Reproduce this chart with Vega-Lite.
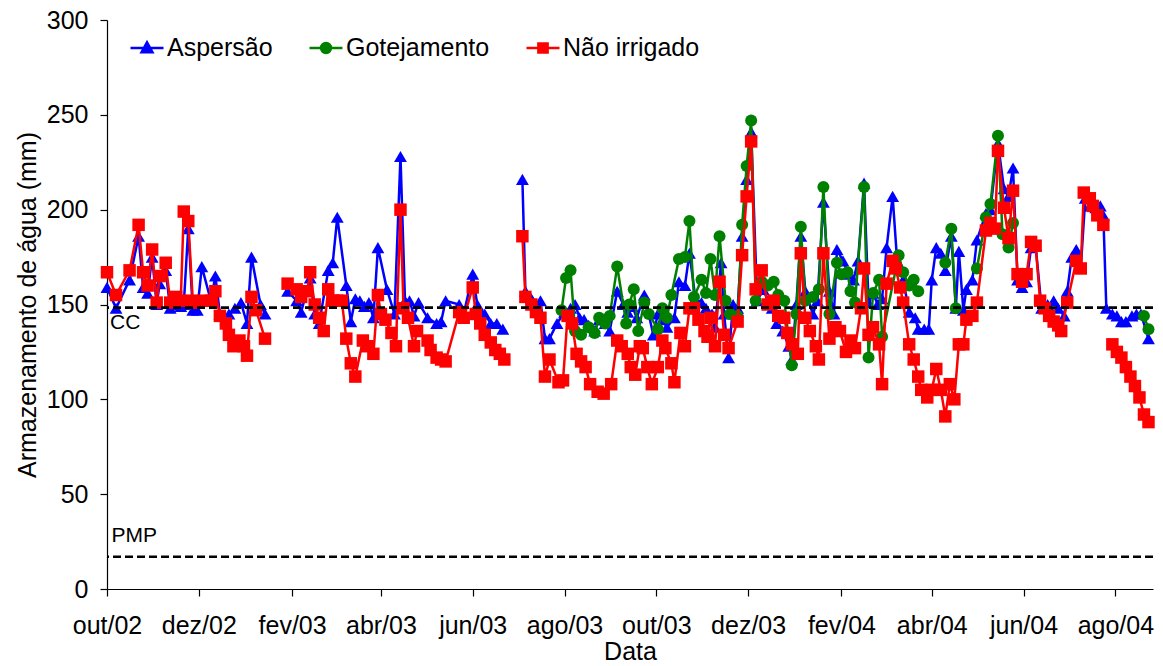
{
"$schema": "https://vega.github.io/schema/vega-lite/v6.json",
"width": 1046, "height": 569, "autosize": "none",
"padding": {"left": 107, "top": 20, "right": 10, "bottom": 77},
"background": "white",
"config": {"view": {"stroke": null}, "font": "Liberation Sans",
 "axis": {"labelFont": "Liberation Sans", "titleFont": "Liberation Sans", "labelColor": "black", "titleColor": "black", "domainColor": "black", "tickColor": "black", "grid": false, "titleFontWeight": "normal", "labelFontSize": 25, "titleFontSize": 25, "tickSize": 7, "domainWidth": 1.2, "tickWidth": 1.2}},
"layer": [
 {"data": {"values": [
{"s":"Aspersão","d":"2002-10-01","v":159,"g":1},{"s":"Aspersão","d":"2002-10-07","v":148,"g":1},{"s":"Aspersão","d":"2002-10-16","v":163,"g":1},{"s":"Aspersão","d":"2002-10-22","v":186,"g":1},{"s":"Aspersão","d":"2002-10-25","v":159,"g":1},{"s":"Aspersão","d":"2002-10-28","v":156,"g":1},{"s":"Aspersão","d":"2002-10-31","v":175,"g":1},{"s":"Aspersão","d":"2002-11-03","v":150,"g":1},{"s":"Aspersão","d":"2002-11-05","v":161,"g":1},{"s":"Aspersão","d":"2002-11-09","v":168,"g":1},{"s":"Aspersão","d":"2002-11-12","v":148,"g":1},{"s":"Aspersão","d":"2002-11-16","v":150,"g":1},{"s":"Aspersão","d":"2002-11-19","v":149,"g":1},{"s":"Aspersão","d":"2002-11-21","v":150,"g":1},{"s":"Aspersão","d":"2002-11-24","v":190,"g":1},{"s":"Aspersão","d":"2002-11-27","v":147,"g":1},{"s":"Aspersão","d":"2002-11-30","v":147,"g":1},{"s":"Aspersão","d":"2002-12-03","v":170,"g":1},{"s":"Aspersão","d":"2002-12-09","v":152,"g":1},{"s":"Aspersão","d":"2002-12-12","v":165,"g":1},{"s":"Aspersão","d":"2002-12-15","v":145,"g":1},{"s":"Aspersão","d":"2002-12-19","v":142,"g":1},{"s":"Aspersão","d":"2002-12-21","v":145,"g":1},{"s":"Aspersão","d":"2002-12-25","v":148,"g":1},{"s":"Aspersão","d":"2002-12-29","v":151,"g":1},{"s":"Aspersão","d":"2003-01-02","v":140,"g":1},{"s":"Aspersão","d":"2003-01-05","v":175,"g":1},{"s":"Aspersão","d":"2003-01-11","v":150,"g":1},{"s":"Aspersão","d":"2003-01-14","v":145,"g":1},
{"s":"Aspersão","d":"2003-01-29","v":157,"g":2},{"s":"Aspersão","d":"2003-02-04","v":152,"g":2},{"s":"Aspersão","d":"2003-02-07","v":146,"g":2},{"s":"Aspersão","d":"2003-02-13","v":164,"g":2},{"s":"Aspersão","d":"2003-02-16","v":145,"g":2},{"s":"Aspersão","d":"2003-02-19","v":140,"g":2},{"s":"Aspersão","d":"2003-02-25","v":168,"g":2},{"s":"Aspersão","d":"2003-02-28","v":172,"g":2},{"s":"Aspersão","d":"2003-03-03","v":196,"g":2},{"s":"Aspersão","d":"2003-03-09","v":160,"g":2},{"s":"Aspersão","d":"2003-03-12","v":141,"g":2},{"s":"Aspersão","d":"2003-03-15","v":153,"g":2},{"s":"Aspersão","d":"2003-03-18","v":152,"g":2},{"s":"Aspersão","d":"2003-03-21","v":149,"g":2},{"s":"Aspersão","d":"2003-03-24","v":151,"g":2},{"s":"Aspersão","d":"2003-03-27","v":143,"g":2},{"s":"Aspersão","d":"2003-03-30","v":180,"g":2},{"s":"Aspersão","d":"2003-04-05","v":158,"g":2},{"s":"Aspersão","d":"2003-04-10","v":145,"g":2},{"s":"Aspersão","d":"2003-04-14","v":228,"g":2},{"s":"Aspersão","d":"2003-04-17","v":152,"g":2},{"s":"Aspersão","d":"2003-04-20","v":152,"g":2},{"s":"Aspersão","d":"2003-04-23","v":144,"g":2},{"s":"Aspersão","d":"2003-04-26","v":151,"g":2},{"s":"Aspersão","d":"2003-05-02","v":143,"g":2},{"s":"Aspersão","d":"2003-05-08","v":140,"g":2},{"s":"Aspersão","d":"2003-05-11","v":141,"g":2},{"s":"Aspersão","d":"2003-05-14","v":152,"g":2},{"s":"Aspersão","d":"2003-05-23","v":150,"g":2},{"s":"Aspersão","d":"2003-05-26","v":145,"g":2},{"s":"Aspersão","d":"2003-06-01","v":166,"g":2},{"s":"Aspersão","d":"2003-06-04","v":150,"g":2},{"s":"Aspersão","d":"2003-06-09","v":145,"g":2},{"s":"Aspersão","d":"2003-06-13","v":140,"g":2},{"s":"Aspersão","d":"2003-06-17","v":140,"g":2},{"s":"Aspersão","d":"2003-06-21","v":137,"g":2},
{"s":"Aspersão","d":"2003-07-04","v":216,"g":3},{"s":"Aspersão","d":"2003-07-06","v":157,"g":3},{"s":"Aspersão","d":"2003-07-10","v":153,"g":3},{"s":"Aspersão","d":"2003-07-13","v":150,"g":3},{"s":"Aspersão","d":"2003-07-16","v":152,"g":3},{"s":"Aspersão","d":"2003-07-19","v":132,"g":3},{"s":"Aspersão","d":"2003-07-22","v":132,"g":3},{"s":"Aspersão","d":"2003-07-27","v":140,"g":3},{"s":"Aspersão","d":"2003-08-01","v":146,"g":3},{"s":"Aspersão","d":"2003-08-05","v":148,"g":3},{"s":"Aspersão","d":"2003-08-08","v":150,"g":3},{"s":"Aspersão","d":"2003-08-11","v":143,"g":3},{"s":"Aspersão","d":"2003-08-14","v":142,"g":3},{"s":"Aspersão","d":"2003-08-17","v":139,"g":3},{"s":"Aspersão","d":"2003-08-21","v":136,"g":3},{"s":"Aspersão","d":"2003-08-24","v":142,"g":3},{"s":"Aspersão","d":"2003-08-28","v":140,"g":3},{"s":"Aspersão","d":"2003-08-31","v":136,"g":3},{"s":"Aspersão","d":"2003-09-05","v":157,"g":3},{"s":"Aspersão","d":"2003-09-09","v":150,"g":3},{"s":"Aspersão","d":"2003-09-12","v":146,"g":3},{"s":"Aspersão","d":"2003-09-15","v":149,"g":3},{"s":"Aspersão","d":"2003-09-18","v":143,"g":3},{"s":"Aspersão","d":"2003-09-23","v":155,"g":3},{"s":"Aspersão","d":"2003-09-29","v":134,"g":3},{"s":"Aspersão","d":"2003-10-02","v":145,"g":3},{"s":"Aspersão","d":"2003-10-05","v":142,"g":3},{"s":"Aspersão","d":"2003-10-08","v":138,"g":3},{"s":"Aspersão","d":"2003-10-13","v":143,"g":3},{"s":"Aspersão","d":"2003-10-16","v":162,"g":3},{"s":"Aspersão","d":"2003-10-20","v":160,"g":3},{"s":"Aspersão","d":"2003-10-23","v":177,"g":3},{"s":"Aspersão","d":"2003-10-27","v":153,"g":3},{"s":"Aspersão","d":"2003-10-31","v":151,"g":3},{"s":"Aspersão","d":"2003-11-03","v":148,"g":3},{"s":"Aspersão","d":"2003-11-07","v":145,"g":3},{"s":"Aspersão","d":"2003-11-09","v":138,"g":3},{"s":"Aspersão","d":"2003-11-13","v":172,"g":3},{"s":"Aspersão","d":"2003-11-15","v":145,"g":3},{"s":"Aspersão","d":"2003-11-18","v":122,"g":3},{"s":"Aspersão","d":"2003-11-21","v":150,"g":3},{"s":"Aspersão","d":"2003-11-24","v":148,"g":3},{"s":"Aspersão","d":"2003-11-27","v":186,"g":3},{"s":"Aspersão","d":"2003-11-30","v":216,"g":3},{"s":"Aspersão","d":"2003-12-03","v":241,"g":3},{"s":"Aspersão","d":"2003-12-07","v":152,"g":3},{"s":"Aspersão","d":"2003-12-11","v":158,"g":3},{"s":"Aspersão","d":"2003-12-14","v":152,"g":3},{"s":"Aspersão","d":"2003-12-17","v":148,"g":3},{"s":"Aspersão","d":"2003-12-20","v":140,"g":3},{"s":"Aspersão","d":"2003-12-24","v":136,"g":3},{"s":"Aspersão","d":"2003-12-28","v":128,"g":3},{"s":"Aspersão","d":"2003-12-30","v":121,"g":3},{"s":"Aspersão","d":"2004-01-02","v":150,"g":3},{"s":"Aspersão","d":"2004-01-05","v":186,"g":3},{"s":"Aspersão","d":"2004-01-08","v":157,"g":3},{"s":"Aspersão","d":"2004-01-13","v":145,"g":3},{"s":"Aspersão","d":"2004-01-16","v":152,"g":3},{"s":"Aspersão","d":"2004-01-20","v":204,"g":3},{"s":"Aspersão","d":"2004-01-24","v":157,"g":3},{"s":"Aspersão","d":"2004-01-27","v":145,"g":3},{"s":"Aspersão","d":"2004-01-29","v":179,"g":3},{"s":"Aspersão","d":"2004-02-02","v":173,"g":3},{"s":"Aspersão","d":"2004-02-06","v":166,"g":3},{"s":"Aspersão","d":"2004-02-09","v":163,"g":3},{"s":"Aspersão","d":"2004-02-12","v":173,"g":3},{"s":"Aspersão","d":"2004-02-16","v":214,"g":3},{"s":"Aspersão","d":"2004-02-19","v":151,"g":3},{"s":"Aspersão","d":"2004-02-22","v":156,"g":3},{"s":"Aspersão","d":"2004-02-25","v":150,"g":3},{"s":"Aspersão","d":"2004-02-28","v":153,"g":3},{"s":"Aspersão","d":"2004-03-02","v":180,"g":3},{"s":"Aspersão","d":"2004-03-06","v":207,"g":3},{"s":"Aspersão","d":"2004-03-09","v":173,"g":3},{"s":"Aspersão","d":"2004-03-13","v":163,"g":3},{"s":"Aspersão","d":"2004-03-17","v":146,"g":3},{"s":"Aspersão","d":"2004-03-21","v":143,"g":3},{"s":"Aspersão","d":"2004-03-23","v":137,"g":3},{"s":"Aspersão","d":"2004-03-27","v":137,"g":3},{"s":"Aspersão","d":"2004-03-30","v":137,"g":3},{"s":"Aspersão","d":"2004-04-01","v":163,"g":3},{"s":"Aspersão","d":"2004-04-04","v":180,"g":3},{"s":"Aspersão","d":"2004-04-07","v":177,"g":3},{"s":"Aspersão","d":"2004-04-10","v":168,"g":3},{"s":"Aspersão","d":"2004-04-14","v":186,"g":3},{"s":"Aspersão","d":"2004-04-17","v":148,"g":3},{"s":"Aspersão","d":"2004-04-19","v":178,"g":3},{"s":"Aspersão","d":"2004-04-22","v":147,"g":3},{"s":"Aspersão","d":"2004-04-24","v":158,"g":3},{"s":"Aspersão","d":"2004-04-28","v":163,"g":3},{"s":"Aspersão","d":"2004-05-01","v":184,"g":3},{"s":"Aspersão","d":"2004-05-07","v":198,"g":3},{"s":"Aspersão","d":"2004-05-10","v":200,"g":3},{"s":"Aspersão","d":"2004-05-15","v":235,"g":3},{"s":"Aspersão","d":"2004-05-19","v":211,"g":3},{"s":"Aspersão","d":"2004-05-22","v":207,"g":3},{"s":"Aspersão","d":"2004-05-25","v":222,"g":3},{"s":"Aspersão","d":"2004-05-28","v":163,"g":3},{"s":"Aspersão","d":"2004-05-31","v":159,"g":3},{"s":"Aspersão","d":"2004-06-03","v":162,"g":3},{"s":"Aspersão","d":"2004-06-06","v":180,"g":3},{"s":"Aspersão","d":"2004-06-09","v":181,"g":3},{"s":"Aspersão","d":"2004-06-13","v":148,"g":3},{"s":"Aspersão","d":"2004-06-17","v":150,"g":3},{"s":"Aspersão","d":"2004-06-21","v":152,"g":3},{"s":"Aspersão","d":"2004-06-24","v":148,"g":3},{"s":"Aspersão","d":"2004-06-28","v":144,"g":3},{"s":"Aspersão","d":"2004-06-30","v":157,"g":3},{"s":"Aspersão","d":"2004-07-03","v":175,"g":3},{"s":"Aspersão","d":"2004-07-06","v":179,"g":3},{"s":"Aspersão","d":"2004-07-09","v":169,"g":3},{"s":"Aspersão","d":"2004-07-12","v":206,"g":3},{"s":"Aspersão","d":"2004-07-15","v":202,"g":3},{"s":"Aspersão","d":"2004-07-19","v":201,"g":3},{"s":"Aspersão","d":"2004-07-22","v":202,"g":3},{"s":"Aspersão","d":"2004-07-24","v":197,"g":3},{"s":"Aspersão","d":"2004-07-26","v":148,"g":3},{"s":"Aspersão","d":"2004-07-30","v":145,"g":3},{"s":"Aspersão","d":"2004-08-02","v":144,"g":3},{"s":"Aspersão","d":"2004-08-05","v":141,"g":3},{"s":"Aspersão","d":"2004-08-08","v":141,"g":3},{"s":"Aspersão","d":"2004-08-12","v":144,"g":3},{"s":"Aspersão","d":"2004-08-15","v":145,"g":3},{"s":"Aspersão","d":"2004-08-18","v":145,"g":3},{"s":"Aspersão","d":"2004-08-23","v":132,"g":3},
{"s":"Gotejamento","d":"2003-07-30","v":147,"g":1},{"s":"Gotejamento","d":"2003-08-02","v":164,"g":1},{"s":"Gotejamento","d":"2003-08-05","v":168,"g":1},{"s":"Gotejamento","d":"2003-08-08","v":136,"g":1},{"s":"Gotejamento","d":"2003-08-12","v":134,"g":1},{"s":"Gotejamento","d":"2003-08-17","v":138,"g":1},{"s":"Gotejamento","d":"2003-08-21","v":135,"g":1},{"s":"Gotejamento","d":"2003-08-24","v":143,"g":1},{"s":"Gotejamento","d":"2003-08-28","v":140,"g":1},{"s":"Gotejamento","d":"2003-08-31","v":144,"g":1},{"s":"Gotejamento","d":"2003-09-05","v":170,"g":1},{"s":"Gotejamento","d":"2003-09-11","v":140,"g":1},{"s":"Gotejamento","d":"2003-09-13","v":150,"g":1},{"s":"Gotejamento","d":"2003-09-16","v":158,"g":1},{"s":"Gotejamento","d":"2003-09-19","v":136,"g":1},{"s":"Gotejamento","d":"2003-09-23","v":151,"g":1},{"s":"Gotejamento","d":"2003-09-26","v":145,"g":1},{"s":"Gotejamento","d":"2003-10-02","v":137,"g":1},{"s":"Gotejamento","d":"2003-10-05","v":148,"g":1},{"s":"Gotejamento","d":"2003-10-08","v":143,"g":1},{"s":"Gotejamento","d":"2003-10-11","v":155,"g":1},{"s":"Gotejamento","d":"2003-10-16","v":174,"g":1},{"s":"Gotejamento","d":"2003-10-20","v":175,"g":1},{"s":"Gotejamento","d":"2003-10-23","v":194,"g":1},{"s":"Gotejamento","d":"2003-10-26","v":154,"g":1},{"s":"Gotejamento","d":"2003-10-31","v":163,"g":1},{"s":"Gotejamento","d":"2003-11-03","v":156,"g":1},{"s":"Gotejamento","d":"2003-11-06","v":174,"g":1},{"s":"Gotejamento","d":"2003-11-09","v":155,"g":1},{"s":"Gotejamento","d":"2003-11-12","v":186,"g":1},{"s":"Gotejamento","d":"2003-11-16","v":152,"g":1},{"s":"Gotejamento","d":"2003-11-19","v":145,"g":1},{"s":"Gotejamento","d":"2003-11-24","v":144,"g":1},{"s":"Gotejamento","d":"2003-11-27","v":192,"g":1},{"s":"Gotejamento","d":"2003-11-30","v":223,"g":1},{"s":"Gotejamento","d":"2003-12-03","v":247,"g":1},{"s":"Gotejamento","d":"2003-12-06","v":152,"g":1},{"s":"Gotejamento","d":"2003-12-10","v":162,"g":1},{"s":"Gotejamento","d":"2003-12-14","v":160,"g":1},{"s":"Gotejamento","d":"2003-12-18","v":162,"g":1},{"s":"Gotejamento","d":"2003-12-21","v":155,"g":1},{"s":"Gotejamento","d":"2003-12-25","v":152,"g":1},{"s":"Gotejamento","d":"2003-12-30","v":118,"g":1},{"s":"Gotejamento","d":"2004-01-02","v":145,"g":1},{"s":"Gotejamento","d":"2004-01-05","v":191,"g":1},{"s":"Gotejamento","d":"2004-01-08","v":152,"g":1},{"s":"Gotejamento","d":"2004-01-13","v":154,"g":1},{"s":"Gotejamento","d":"2004-01-17","v":158,"g":1},{"s":"Gotejamento","d":"2004-01-20","v":212,"g":1},{"s":"Gotejamento","d":"2004-01-24","v":145,"g":1},{"s":"Gotejamento","d":"2004-01-29","v":172,"g":1},{"s":"Gotejamento","d":"2004-02-01","v":166,"g":1},{"s":"Gotejamento","d":"2004-02-05","v":167,"g":1},{"s":"Gotejamento","d":"2004-02-07","v":157,"g":1},{"s":"Gotejamento","d":"2004-02-10","v":151,"g":1},{"s":"Gotejamento","d":"2004-02-16","v":212,"g":1},{"s":"Gotejamento","d":"2004-02-19","v":122,"g":1},{"s":"Gotejamento","d":"2004-02-22","v":156,"g":1},{"s":"Gotejamento","d":"2004-02-26","v":163,"g":1},{"s":"Gotejamento","d":"2004-02-28","v":133,"g":1},{"s":"Gotejamento","d":"2004-03-10","v":176,"g":1},{"s":"Gotejamento","d":"2004-03-13","v":167,"g":1},{"s":"Gotejamento","d":"2004-03-17","v":160,"g":1},{"s":"Gotejamento","d":"2004-03-20","v":163,"g":1},{"s":"Gotejamento","d":"2004-03-23","v":157,"g":1},
{"s":"Gotejamento","d":"2004-04-10","v":172,"g":2},{"s":"Gotejamento","d":"2004-04-14","v":190,"g":2},{"s":"Gotejamento","d":"2004-04-17","v":148,"g":2},
{"s":"Gotejamento","d":"2004-05-01","v":169,"g":3},{"s":"Gotejamento","d":"2004-05-07","v":196,"g":3},{"s":"Gotejamento","d":"2004-05-10","v":203,"g":3},{"s":"Gotejamento","d":"2004-05-15","v":239,"g":3},{"s":"Gotejamento","d":"2004-05-18","v":187,"g":3},{"s":"Gotejamento","d":"2004-05-22","v":180,"g":3},{"s":"Gotejamento","d":"2004-05-25","v":193,"g":3},
{"s":"Gotejamento","d":"2004-08-20","v":144,"g":4},{"s":"Gotejamento","d":"2004-08-23","v":137,"g":4},
{"s":"Não irrigado","d":"2002-10-01","v":167,"g":1},{"s":"Não irrigado","d":"2002-10-07","v":155,"g":1},{"s":"Não irrigado","d":"2002-10-16","v":168,"g":1},{"s":"Não irrigado","d":"2002-10-22","v":192,"g":1},{"s":"Não irrigado","d":"2002-10-25","v":167,"g":1},{"s":"Não irrigado","d":"2002-10-28","v":160,"g":1},{"s":"Não irrigado","d":"2002-10-31","v":179,"g":1},{"s":"Não irrigado","d":"2002-11-03","v":151,"g":1},{"s":"Não irrigado","d":"2002-11-05","v":165,"g":1},{"s":"Não irrigado","d":"2002-11-09","v":172,"g":1},{"s":"Não irrigado","d":"2002-11-12","v":151,"g":1},{"s":"Não irrigado","d":"2002-11-16","v":154,"g":1},{"s":"Não irrigado","d":"2002-11-19","v":152,"g":1},{"s":"Não irrigado","d":"2002-11-21","v":199,"g":1},{"s":"Não irrigado","d":"2002-11-24","v":194,"g":1},{"s":"Não irrigado","d":"2002-11-27","v":152,"g":1},{"s":"Não irrigado","d":"2002-11-30","v":151,"g":1},{"s":"Não irrigado","d":"2002-12-04","v":152,"g":1},{"s":"Não irrigado","d":"2002-12-09","v":152,"g":1},{"s":"Não irrigado","d":"2002-12-12","v":157,"g":1},{"s":"Não irrigado","d":"2002-12-15","v":144,"g":1},{"s":"Não irrigado","d":"2002-12-19","v":140,"g":1},{"s":"Não irrigado","d":"2002-12-21","v":134,"g":1},{"s":"Não irrigado","d":"2002-12-24","v":128,"g":1},{"s":"Não irrigado","d":"2002-12-28","v":131,"g":1},{"s":"Não irrigado","d":"2002-12-31","v":128,"g":1},{"s":"Não irrigado","d":"2003-01-02","v":123,"g":1},{"s":"Não irrigado","d":"2003-01-05","v":154,"g":1},{"s":"Não irrigado","d":"2003-01-08","v":147,"g":1},{"s":"Não irrigado","d":"2003-01-14","v":132,"g":1},
{"s":"Não irrigado","d":"2003-01-29","v":161,"g":2},{"s":"Não irrigado","d":"2003-02-04","v":158,"g":2},{"s":"Não irrigado","d":"2003-02-07","v":154,"g":2},{"s":"Não irrigado","d":"2003-02-11","v":157,"g":2},{"s":"Não irrigado","d":"2003-02-13","v":167,"g":2},{"s":"Não irrigado","d":"2003-02-16","v":150,"g":2},{"s":"Não irrigado","d":"2003-02-19","v":143,"g":2},{"s":"Não irrigado","d":"2003-02-22","v":136,"g":2},{"s":"Não irrigado","d":"2003-02-25","v":158,"g":2},{"s":"Não irrigado","d":"2003-02-28","v":152,"g":2},{"s":"Não irrigado","d":"2003-03-03","v":152,"g":2},{"s":"Não irrigado","d":"2003-03-06","v":152,"g":2},{"s":"Não irrigado","d":"2003-03-09","v":132,"g":2},{"s":"Não irrigado","d":"2003-03-12","v":119,"g":2},{"s":"Não irrigado","d":"2003-03-15","v":112,"g":2},{"s":"Não irrigado","d":"2003-03-20","v":131,"g":2},{"s":"Não irrigado","d":"2003-03-23","v":128,"g":2},{"s":"Não irrigado","d":"2003-03-27","v":124,"g":2},{"s":"Não irrigado","d":"2003-03-30","v":155,"g":2},{"s":"Não irrigado","d":"2003-04-01","v":145,"g":2},{"s":"Não irrigado","d":"2003-04-04","v":142,"g":2},{"s":"Não irrigado","d":"2003-04-08","v":135,"g":2},{"s":"Não irrigado","d":"2003-04-11","v":128,"g":2},{"s":"Não irrigado","d":"2003-04-14","v":200,"g":2},{"s":"Não irrigado","d":"2003-04-16","v":148,"g":2},{"s":"Não irrigado","d":"2003-04-19","v":143,"g":2},{"s":"Não irrigado","d":"2003-04-23","v":128,"g":2},{"s":"Não irrigado","d":"2003-04-25","v":136,"g":2},{"s":"Não irrigado","d":"2003-05-02","v":131,"g":2},{"s":"Não irrigado","d":"2003-05-04","v":126,"g":2},{"s":"Não irrigado","d":"2003-05-08","v":122,"g":2},{"s":"Não irrigado","d":"2003-05-11","v":121,"g":2},{"s":"Não irrigado","d":"2003-05-14","v":120,"g":2},{"s":"Não irrigado","d":"2003-05-23","v":146,"g":2},{"s":"Não irrigado","d":"2003-05-26","v":143,"g":2},{"s":"Não irrigado","d":"2003-06-01","v":159,"g":2},{"s":"Não irrigado","d":"2003-06-03","v":145,"g":2},{"s":"Não irrigado","d":"2003-06-06","v":140,"g":2},{"s":"Não irrigado","d":"2003-06-09","v":134,"g":2},{"s":"Não irrigado","d":"2003-06-13","v":130,"g":2},{"s":"Não irrigado","d":"2003-06-16","v":126,"g":2},{"s":"Não irrigado","d":"2003-06-19","v":124,"g":2},{"s":"Não irrigado","d":"2003-06-22","v":121,"g":2},
{"s":"Não irrigado","d":"2003-07-04","v":186,"g":3},{"s":"Não irrigado","d":"2003-07-06","v":154,"g":3},{"s":"Não irrigado","d":"2003-07-10","v":150,"g":3},{"s":"Não irrigado","d":"2003-07-13","v":146,"g":3},{"s":"Não irrigado","d":"2003-07-16","v":143,"g":3},{"s":"Não irrigado","d":"2003-07-19","v":112,"g":3},{"s":"Não irrigado","d":"2003-07-22","v":121,"g":3},{"s":"Não irrigado","d":"2003-07-28","v":109,"g":3},{"s":"Não irrigado","d":"2003-07-31","v":110,"g":3},{"s":"Não irrigado","d":"2003-08-03","v":144,"g":3},{"s":"Não irrigado","d":"2003-08-06","v":140,"g":3},{"s":"Não irrigado","d":"2003-08-09","v":124,"g":3},{"s":"Não irrigado","d":"2003-08-12","v":120,"g":3},{"s":"Não irrigado","d":"2003-08-15","v":117,"g":3},{"s":"Não irrigado","d":"2003-08-18","v":108,"g":3},{"s":"Não irrigado","d":"2003-08-23","v":104,"g":3},{"s":"Não irrigado","d":"2003-08-27","v":103,"g":3},{"s":"Não irrigado","d":"2003-09-01","v":108,"g":3},{"s":"Não irrigado","d":"2003-09-05","v":131,"g":3},{"s":"Não irrigado","d":"2003-09-08","v":128,"g":3},{"s":"Não irrigado","d":"2003-09-12","v":124,"g":3},{"s":"Não irrigado","d":"2003-09-14","v":117,"g":3},{"s":"Não irrigado","d":"2003-09-17","v":113,"g":3},{"s":"Não irrigado","d":"2003-09-20","v":128,"g":3},{"s":"Não irrigado","d":"2003-09-22","v":127,"g":3},{"s":"Não irrigado","d":"2003-09-25","v":117,"g":3},{"s":"Não irrigado","d":"2003-09-28","v":108,"g":3},{"s":"Não irrigado","d":"2003-10-02","v":117,"g":3},{"s":"Não irrigado","d":"2003-10-05","v":131,"g":3},{"s":"Não irrigado","d":"2003-10-07","v":127,"g":3},{"s":"Não irrigado","d":"2003-10-11","v":119,"g":3},{"s":"Não irrigado","d":"2003-10-13","v":109,"g":3},{"s":"Não irrigado","d":"2003-10-17","v":135,"g":3},{"s":"Não irrigado","d":"2003-10-20","v":128,"g":3},{"s":"Não irrigado","d":"2003-10-23","v":148,"g":3},{"s":"Não irrigado","d":"2003-10-26","v":148,"g":3},{"s":"Não irrigado","d":"2003-10-29","v":142,"g":3},{"s":"Não irrigado","d":"2003-11-02","v":136,"g":3},{"s":"Não irrigado","d":"2003-11-04","v":133,"g":3},{"s":"Não irrigado","d":"2003-11-06","v":143,"g":3},{"s":"Não irrigado","d":"2003-11-09","v":128,"g":3},{"s":"Não irrigado","d":"2003-11-12","v":162,"g":3},{"s":"Não irrigado","d":"2003-11-15","v":134,"g":3},{"s":"Não irrigado","d":"2003-11-18","v":127,"g":3},{"s":"Não irrigado","d":"2003-11-24","v":141,"g":3},{"s":"Não irrigado","d":"2003-11-27","v":176,"g":3},{"s":"Não irrigado","d":"2003-11-30","v":207,"g":3},{"s":"Não irrigado","d":"2003-12-03","v":236,"g":3},{"s":"Não irrigado","d":"2003-12-06","v":158,"g":3},{"s":"Não irrigado","d":"2003-12-10","v":168,"g":3},{"s":"Não irrigado","d":"2003-12-14","v":150,"g":3},{"s":"Não irrigado","d":"2003-12-18","v":152,"g":3},{"s":"Não irrigado","d":"2003-12-21","v":144,"g":3},{"s":"Não irrigado","d":"2003-12-25","v":143,"g":3},{"s":"Não irrigado","d":"2003-12-27","v":135,"g":3},{"s":"Não irrigado","d":"2003-12-30","v":129,"g":3},{"s":"Não irrigado","d":"2004-01-03","v":124,"g":3},{"s":"Não irrigado","d":"2004-01-05","v":177,"g":3},{"s":"Não irrigado","d":"2004-01-08","v":143,"g":3},{"s":"Não irrigado","d":"2004-01-11","v":136,"g":3},{"s":"Não irrigado","d":"2004-01-15","v":128,"g":3},{"s":"Não irrigado","d":"2004-01-17","v":121,"g":3},{"s":"Não irrigado","d":"2004-01-20","v":177,"g":3},{"s":"Não irrigado","d":"2004-01-24","v":132,"g":3},{"s":"Não irrigado","d":"2004-01-28","v":138,"g":3},{"s":"Não irrigado","d":"2004-01-31","v":136,"g":3},{"s":"Não irrigado","d":"2004-02-04","v":125,"g":3},{"s":"Não irrigado","d":"2004-02-07","v":131,"g":3},{"s":"Não irrigado","d":"2004-02-10","v":127,"g":3},{"s":"Não irrigado","d":"2004-02-14","v":148,"g":3},{"s":"Não irrigado","d":"2004-02-16","v":169,"g":3},{"s":"Não irrigado","d":"2004-02-19","v":134,"g":3},{"s":"Não irrigado","d":"2004-02-22","v":138,"g":3},{"s":"Não irrigado","d":"2004-02-26","v":129,"g":3},{"s":"Não irrigado","d":"2004-02-28","v":108,"g":3},{"s":"Não irrigado","d":"2004-03-02","v":161,"g":3},{"s":"Não irrigado","d":"2004-03-06","v":173,"g":3},{"s":"Não irrigado","d":"2004-03-08","v":169,"g":3},{"s":"Não irrigado","d":"2004-03-11","v":159,"g":3},{"s":"Não irrigado","d":"2004-03-13","v":151,"g":3},{"s":"Não irrigado","d":"2004-03-17","v":129,"g":3},{"s":"Não irrigado","d":"2004-03-20","v":121,"g":3},{"s":"Não irrigado","d":"2004-03-23","v":112,"g":3},{"s":"Não irrigado","d":"2004-03-25","v":105,"g":3},{"s":"Não irrigado","d":"2004-03-29","v":101,"g":3},{"s":"Não irrigado","d":"2004-04-01","v":105,"g":3},{"s":"Não irrigado","d":"2004-04-04","v":116,"g":3},{"s":"Não irrigado","d":"2004-04-07","v":105,"g":3},{"s":"Não irrigado","d":"2004-04-10","v":91,"g":3},{"s":"Não irrigado","d":"2004-04-13","v":108,"g":3},{"s":"Não irrigado","d":"2004-04-16","v":100,"g":3},{"s":"Não irrigado","d":"2004-04-19","v":129,"g":3},{"s":"Não irrigado","d":"2004-04-22","v":129,"g":3},{"s":"Não irrigado","d":"2004-04-24","v":142,"g":3},{"s":"Não irrigado","d":"2004-04-28","v":144,"g":3},{"s":"Não irrigado","d":"2004-05-01","v":151,"g":3},{"s":"Não irrigado","d":"2004-05-07","v":189,"g":3},{"s":"Não irrigado","d":"2004-05-10","v":193,"g":3},{"s":"Não irrigado","d":"2004-05-13","v":190,"g":3},{"s":"Não irrigado","d":"2004-05-15","v":231,"g":3},{"s":"Não irrigado","d":"2004-05-19","v":201,"g":3},{"s":"Não irrigado","d":"2004-05-22","v":185,"g":3},{"s":"Não irrigado","d":"2004-05-25","v":210,"g":3},{"s":"Não irrigado","d":"2004-05-28","v":166,"g":3},{"s":"Não irrigado","d":"2004-05-31","v":162,"g":3},{"s":"Não irrigado","d":"2004-06-03","v":166,"g":3},{"s":"Não irrigado","d":"2004-06-06","v":183,"g":3},{"s":"Não irrigado","d":"2004-06-09","v":181,"g":3},{"s":"Não irrigado","d":"2004-06-12","v":152,"g":3},{"s":"Não irrigado","d":"2004-06-15","v":148,"g":3},{"s":"Não irrigado","d":"2004-06-18","v":144,"g":3},{"s":"Não irrigado","d":"2004-06-21","v":141,"g":3},{"s":"Não irrigado","d":"2004-06-24","v":139,"g":3},{"s":"Não irrigado","d":"2004-06-26","v":136,"g":3},{"s":"Não irrigado","d":"2004-06-30","v":151,"g":3},{"s":"Não irrigado","d":"2004-07-06","v":173,"g":3},{"s":"Não irrigado","d":"2004-07-09","v":169,"g":3},{"s":"Não irrigado","d":"2004-07-11","v":209,"g":3},{"s":"Não irrigado","d":"2004-07-15","v":206,"g":3},{"s":"Não irrigado","d":"2004-07-17","v":202,"g":3},{"s":"Não irrigado","d":"2004-07-20","v":197,"g":3},{"s":"Não irrigado","d":"2004-07-24","v":192,"g":3},
{"s":"Não irrigado","d":"2004-07-30","v":129,"g":4},{"s":"Não irrigado","d":"2004-08-02","v":125,"g":4},{"s":"Não irrigado","d":"2004-08-05","v":122,"g":4},{"s":"Não irrigado","d":"2004-08-08","v":117,"g":4},{"s":"Não irrigado","d":"2004-08-11","v":112,"g":4},{"s":"Não irrigado","d":"2004-08-14","v":107,"g":4},{"s":"Não irrigado","d":"2004-08-17","v":101,"g":4},{"s":"Não irrigado","d":"2004-08-20","v":92,"g":4},{"s":"Não irrigado","d":"2004-08-23","v":88,"g":4}
 ], "format": {"parse": {"d": "date:'%Y-%m-%d'"}}},
 "encoding": {
  "x": {"field": "d", "type": "temporal", "scale": {"domain": [{"year": 2002, "month": 10, "date": 1}, {"year": 2004, "month": 8, "date": 26}]},
   "axis": {"title": "Data", "titlePadding": 1, "labelPadding": 17, "labelFlush": false, "labelOverlap": false,
    "values": [{"year":2002,"month":10,"date":1},{"year":2002,"month":12,"date":1},{"year":2003,"month":2,"date":1},{"year":2003,"month":4,"date":1},{"year":2003,"month":6,"date":1},{"year":2003,"month":8,"date":1},{"year":2003,"month":10,"date":1},{"year":2003,"month":12,"date":1},{"year":2004,"month":2,"date":1},{"year":2004,"month":4,"date":1},{"year":2004,"month":6,"date":1},{"year":2004,"month":8,"date":1}],
    "labelExpr": "['jan','fev','mar','abr','mai','jun','jul','ago','set','out','nov','dez'][month(datum.value)] + '/' + timeFormat(datum.value, '%y')"}},
  "y": {"field": "v", "type": "quantitative", "scale": {"domain": [0, 300]},
   "axis": {"title": "Armazenamento de água (mm)", "values": [0, 50, 100, 150, 200, 250, 300], "labelPadding": 12, "titlePadding": 6}},
  "color": {"field": "s", "type": "nominal", "scale": {"domain": ["Aspersão", "Gotejamento", "Não irrigado"], "range": ["#0000FF", "#008000", "#FF0000"]},
   "legend": {"orient": "none", "legendX": 22, "legendY": 10, "direction": "horizontal", "title": null, "padding": 0,
    "labelFontSize": 25, "labelFont": "Liberation Sans", "labelColor": "black", "labelLimit": 0, "labelOffset": 2,
    "symbolSize": 1089, "columnPadding": 31, "symbolStrokeWidth": 2.5, "symbolOpacity": 1,
    "encode": {"symbols": {"update": {
      "shape": {"signal": "datum.value === 'Aspersão' ? 'M-1,0H1M0,-0.34L0.33,0.26L-0.33,0.26Z' : datum.value === 'Gotejamento' ? 'M-1,0H1M0.3,0A0.3,0.3 0 1,1 -0.3,0A0.3,0.3 0 1,1 0.3,0Z' : 'M-1,0H1M-0.28,-0.28H0.28V0.28H-0.28Z'"},
      "stroke": {"signal": "scale('color', datum.value)"},
      "fill": {"signal": "scale('color', datum.value)"},
      "strokeWidth": {"value": 2.5}}}}}},
  "detail": {"field": "g", "type": "nominal"}
 },
 "layer": [
  {"transform": [{"filter": "datum.s === 'Aspersão'"}], "layer": [
   {"mark": {"type": "line", "strokeWidth": 2.5}},
   {"mark": {"type": "point", "shape": "triangle-up", "filled": true, "opacity": 1, "size": 165, "strokeWidth": 0}}]},
  {"transform": [{"filter": "datum.s === 'Gotejamento'"}], "layer": [
   {"mark": {"type": "line", "strokeWidth": 2.5}},
   {"mark": {"type": "point", "shape": "circle", "filled": true, "opacity": 1, "size": 144, "strokeWidth": 0}}]},
  {"transform": [{"filter": "datum.s === 'Não irrigado'"}], "layer": [
   {"mark": {"type": "line", "strokeWidth": 2.5}},
   {"mark": {"type": "point", "shape": "square", "filled": true, "opacity": 1, "size": 156, "strokeWidth": 0}}]}
 ]},
 {"data": {"values": [{}]}, "mark": {"type": "rule", "color": "black", "strokeWidth": 2.7, "strokeDash": [8, 4]},
  "encoding": {"y": {"datum": 148.3, "type": "quantitative", "scale": {"domain": [0, 300]}}}},
 {"data": {"values": [{}]}, "mark": {"type": "rule", "color": "black", "strokeWidth": 2.7, "strokeDash": [8, 4]},
  "encoding": {"y": {"datum": 17, "type": "quantitative", "scale": {"domain": [0, 300]}}}},
 {"data": {"values": [{}]}, "mark": {"type": "text", "text": "CC", "fontSize": 21, "font": "Liberation Sans", "color": "black", "align": "left", "baseline": "alphabetic", "dy": 21},
  "encoding": {"x": {"datum": {"year": 2002, "month": 10, "date": 3}, "type": "temporal"}, "y": {"datum": 148.3, "type": "quantitative"}}},
 {"data": {"values": [{}]}, "mark": {"type": "text", "text": "PMP", "fontSize": 21, "font": "Liberation Sans", "color": "black", "align": "left", "baseline": "alphabetic", "dy": -15},
  "encoding": {"x": {"datum": {"year": 2002, "month": 10, "date": 4}, "type": "temporal"}, "y": {"datum": 17, "type": "quantitative"}}}
]
}
